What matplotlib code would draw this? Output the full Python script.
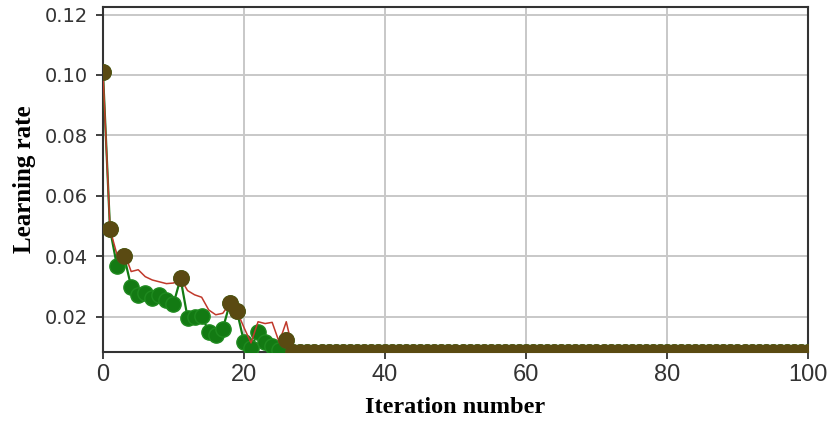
import numpy as np
import matplotlib
matplotlib.use('Agg')
import matplotlib.pyplot as plt

# values, iterations 0..26, then both flat to 100
green_head = [0.101, 0.049, 0.0367, 0.040, 0.030, 0.0273, 0.028, 0.0263, 0.0273,
              0.0256, 0.0243, 0.0327, 0.0198, 0.020, 0.0204, 0.0151, 0.014, 0.0161,
              0.0245, 0.0219, 0.0118, 0.0097, 0.0151, 0.0118, 0.0105, 0.0092, 0.0124]
red_head = [0.101, 0.049, 0.0405, 0.0415, 0.035, 0.0356, 0.0333, 0.0322, 0.0316,
            0.031, 0.0312, 0.0327, 0.0287, 0.0273, 0.0265, 0.0223, 0.0207, 0.0212,
            0.0245, 0.0219, 0.0165, 0.0114, 0.0184, 0.0178, 0.0182, 0.0116, 0.0184]
flat_value = 0.0084
n_iter = 101

green = np.array(green_head + [flat_value] * (n_iter - len(green_head)))
red = np.array(red_head + [flat_value] * (n_iter - len(red_head)))
iters = np.arange(n_iter)
# points where both curves meet (drawn darker in the picture)
shared = [0, 1, 3, 11, 18, 19, 26] + list(range(27, n_iter))

fig = plt.figure(figsize=(8.27, 4.34), dpi=100)
ax = fig.add_axes([0.1245, 0.189, 0.8525, 0.795])

ax.plot(iters, green, color='#137a13', lw=1.6, marker='o', ms=11,
        markeredgecolor='#1f8a1f', zorder=3)
ax.plot(iters, red, color='#c0392b', lw=1.1, zorder=4)
ax.plot(iters[shared], green[shared], ls='none', marker='o', ms=11,
        color='#5a4a12', markeredgecolor='#5a4a12', zorder=5)

ax.set_xlim(0, 100)
ax.set_ylim(0.0084, 0.1225)
ax.set_xticks([0, 20, 40, 60, 80, 100])
ax.set_yticks([0.02, 0.04, 0.06, 0.08, 0.10, 0.12])
ax.set_yticklabels(['0.02', '0.04', '0.06', '0.08', '0.10', '0.12'])
ax.grid(True, color='#c8c8c8', lw=1.4)
ax.set_axisbelow(True)

for s in ax.spines.values():
    s.set_color('#333333')
    s.set_linewidth(1.5)
ax.tick_params(axis='both', length=5, width=1.3, color='#333333')
ax.tick_params(axis='y', pad=6)
for lab in ax.get_yticklabels():
    lab.set_fontsize(14)
    lab.set_color('#333333')
for lab in ax.get_xticklabels():
    lab.set_family('Liberation Sans')
    lab.set_fontsize(17)
    lab.set_color('#333333')

ax.set_xlabel('Iteration number', family='Liberation Serif', fontweight='bold',
              fontsize=17.5, labelpad=8)
ax.set_ylabel('Learning rate', family='Liberation Serif', fontweight='bold',
              fontsize=18, labelpad=6)

fig.savefig('out.png', dpi=100)
